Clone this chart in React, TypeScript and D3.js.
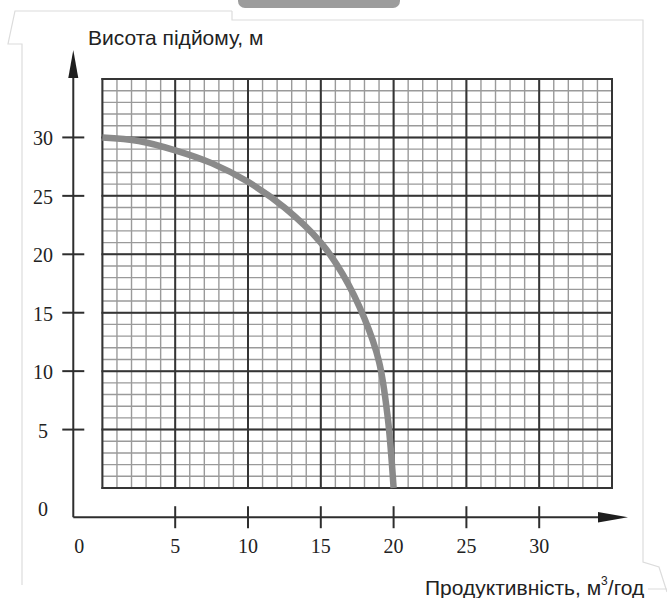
import React from "react";
import * as d3 from "d3";

// pump curve: flow (m3/h) vs head (m)
const flow = [0, 2.5, 5, 7.5, 10, 12.5, 15, 16.5, 18, 19, 19.6, 20];
const head = [30, 29.7, 28.9, 27.8, 26.2, 24.0, 21.0, 18.3, 14.5, 10.8, 6.0, 0];

const xTicks = [5, 10, 15, 20, 25, 30];
const yTicks = [5, 10, 15, 20, 25, 30];
const gridMax = 35;

const yTitle = "Висота підйому, м";
const xTitle = "Продуктивність, м";

const width = 667;
const height = 598;

const serif = "'Liberation Serif', 'DejaVu Serif', serif";
const sans = "'Liberation Sans', Arial, sans-serif";

const App = () => {
  const xScale = d3.scaleLinear().domain([0, gridMax]).range([102.4, 612]);
  const yScale = d3.scaleLinear().domain([0, gridMax]).range([488, 79]);

  const axisX = xScale(-2); // y axis sits a bit left of the grid
  const axisY = yScale(-2.5); // x axis sits a bit below the grid

  const minor = d3.range(0, gridMax + 1);
  const major = d3.range(0, gridMax + 1, 5);

  const curve = d3
    .line<number>()
    .x((d, i) => xScale(flow[i]))
    .y((d) => yScale(d))
    .curve(d3.curveCatmullRom.alpha(0.5));

  const [x0, x1] = xScale.range();
  const [y0, y1] = yScale.range();

  return (
    <svg
      width={width}
      height={height}
      style={{ position: "absolute", left: 0, top: 0, background: "#fff" }}
    >
      {/* scanned page edges */}
      <rect x={238} y={-12} width={162} height={20} rx={7} fill="#9c9c9c" />
      <path
        d="M232 11 L15 11 L8 44 L22 44 L22 585 M232 11 L232 20 L643 20 L643 562 L659 567 L667 592 M648 589 L667 589"
        fill="none"
        stroke="#dcdcdc"
        strokeWidth={1.2}
      />

      {/* minor grid */}
      <g stroke="#9a9a9a" strokeWidth={1.4}>
        {minor.map((v) => (
          <line key={"mx" + v} x1={xScale(v)} x2={xScale(v)} y1={y0} y2={y1} />
        ))}
        {minor.map((v) => (
          <line key={"my" + v} x1={x0} x2={x1} y1={yScale(v)} y2={yScale(v)} />
        ))}
      </g>
      {/* major grid */}
      <g stroke="#353535" strokeWidth={2}>
        {major.map((v) => (
          <line key={"Mx" + v} x1={xScale(v)} x2={xScale(v)} y1={y0 + 1} y2={y1 - 1} />
        ))}
        {major.map((v) => (
          <line key={"My" + v} x1={x0 - 1} x2={x1 + 1} y1={yScale(v)} y2={yScale(v)} />
        ))}
      </g>

      {/* curve */}
      <path d={curve(head) || ""} fill="none" stroke="#8a8a8a" strokeWidth={6.5} />

      {/* axes */}
      <g stroke="#2e2e2e" strokeWidth={2}>
        <line x1={axisX} x2={axisX} y1={axisY} y2={y1 - 10} />
        <line x1={axisX} x2={x1 + 6} y1={axisY} y2={axisY} />
        {yTicks.map((t) => (
          <line key={"yt" + t} x1={axisX - 11} x2={axisX + 11} y1={yScale(t)} y2={yScale(t)} />
        ))}
        {xTicks.map((t) => (
          <line key={"xt" + t} x1={xScale(t)} x2={xScale(t)} y1={axisY - 11} y2={axisY + 11} />
        ))}
      </g>
      <path
        d={`M${axisX} ${y1 - 29} L${axisX - 5} ${y1 - 1} L${axisX + 5} ${y1 - 1} Z`}
        fill="#1e1e1e"
      />
      <path
        d={`M${x1 + 16} ${axisY} L${x1 - 14} ${axisY - 5.3} L${x1 - 14} ${axisY + 5.3} Z`}
        fill="#1e1e1e"
      />

      {/* tick labels */}
      <g fontFamily={serif} fontSize={20} fill="#222" textAnchor="middle">
        {yTicks.map((t) => (
          <text key={"yl" + t} x={43} y={yScale(t) + 8}>
            {t}
          </text>
        ))}
        <text x={43} y={axisY - 1}>0</text>
        <text x={axisX + 6} y={axisY + 36}>0</text>
        {xTicks.map((t) => (
          <text key={"xl" + t} x={xScale(t)} y={axisY + 36}>
            {t}
          </text>
        ))}
      </g>

      {/* titles */}
      <text x={88} y={45} fontFamily={sans} fontSize={21} fill="#222">
        {yTitle}
      </text>
      <text x={425} y={595} fontFamily={sans} fontSize={21} fill="#222">
        {xTitle}
        <tspan fontSize={12} dy={-10}>3</tspan>
        <tspan dy={10}>/год</tspan>
      </text>
    </svg>
  );
};

export default App;
